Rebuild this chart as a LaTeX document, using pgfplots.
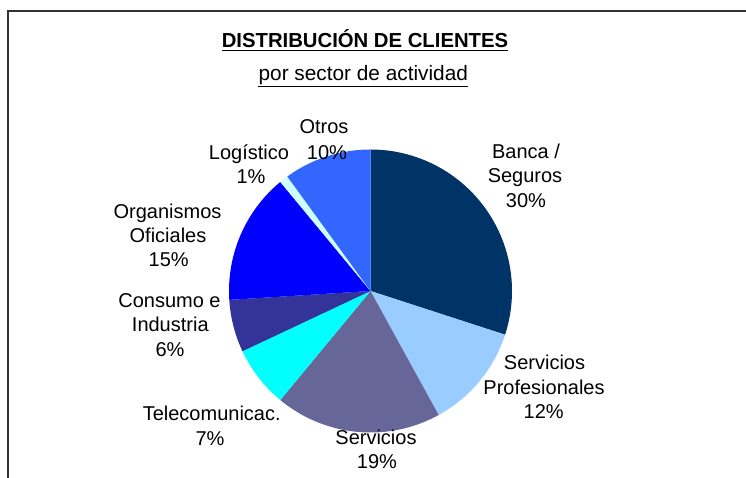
\documentclass[border=0pt]{standalone}
\usepackage{pgfplots}
\pgfplotsset{compat=1.18}
\usepgfplotslibrary{polar}
\usepackage{fontspec}
\setmainfont{Liberation Sans}
\definecolor{cBanca}{HTML}{003366}
\definecolor{cSProf}{HTML}{99CCFF}
\definecolor{cServ}{HTML}{666699}
\definecolor{cTele}{HTML}{00FFFF}
\definecolor{cCons}{HTML}{333399}
\definecolor{cOrg}{HTML}{0000FF}
\definecolor{cLog}{HTML}{CCFFFF}
\definecolor{cOtros}{HTML}{3366FF}
% shares (%): Banca/Seguros 30, Serv. Profesionales 12, Servicios 19,
% Telecomunicac. 7, Consumo e Industria 6, Organismos Oficiales 15,
% Logistico 1, Otros 10 -- clockwise from 12 o'clock (3.6 deg per %)
\newcommand{\lbl}[3]{\node[anchor=base,inner sep=0pt,font=\fontsize{20}{24}\selectfont] at (#1,478-#2) {#3};}
\begin{document}
\begin{tikzpicture}[x=1pt,y=1pt]
\useasboundingbox (0,0) rectangle (746,478);
\draw[line width=1.5pt, color=black!80] (746,467) -- (8,467) -- (8,0);
\begin{polaraxis}[at={(370.5pt,187pt)}, anchor=center, width=283pt, height=283pt,
  scale only axis, hide axis, ymin=0, ymax=1, xmin=0, xmax=360, clip=false]
\addplot[draw=none, fill=cBanca,  domain=-18:90,        samples=80] {1} -- (axis cs:0,0) -- cycle;
\addplot[draw=none, fill=cSProf,  domain=-61.2:-18,     samples=40] {1} -- (axis cs:0,0) -- cycle;
\addplot[draw=none, fill=cServ,   domain=-129.6:-61.2,  samples=60] {1} -- (axis cs:0,0) -- cycle;
\addplot[draw=none, fill=cTele,   domain=-154.8:-129.6, samples=30] {1} -- (axis cs:0,0) -- cycle;
\addplot[draw=none, fill=cCons,   domain=-176.4:-154.8, samples=30] {1} -- (axis cs:0,0) -- cycle;
\addplot[draw=none, fill=cOrg,    domain=-230.4:-176.4, samples=50] {1} -- (axis cs:0,0) -- cycle;
\addplot[draw=none, fill=cLog,    domain=-234:-230.4,   samples=10] {1} -- (axis cs:0,0) -- cycle;
\addplot[draw=none, fill=cOtros,  domain=-270:-234,     samples=40] {1} -- (axis cs:0,0) -- cycle;
\end{polaraxis}
% titles
\node[anchor=base,inner sep=0pt,font=\fontsize{20.3}{24}\selectfont\bfseries] (t1) at (365,478-47.3) {DISTRIBUCIÓN DE CLIENTES};
\draw[line width=1.5pt] ([yshift=-3.4pt]t1.base west) -- ([yshift=-3.4pt]t1.base east);
\node[anchor=base,inner sep=0pt,font=\fontsize{20.8}{24}\selectfont] (t2) at (363.3,478-81) {por sector de actividad};
\draw[line width=1.2pt] ([yshift=-5.7pt]t2.base west) -- ([yshift=-5.7pt]t2.base east);
% labels
\lbl{324}{133.3}{Otros}
\lbl{327}{159.3}{10\%}
\lbl{249}{159.3}{Logístico}
\lbl{251}{184}{1\%}
\lbl{526}{158.3}{Banca /}
\lbl{525}{182.8}{Seguros}
\lbl{526}{207.3}{30\%}
\lbl{167.5}{218.3}{Organismos}
\lbl{168}{242.6}{Oficiales}
\lbl{168.7}{267}{15\%}
\lbl{169.5}{307.5}{Consumo e}
\lbl{170.3}{332}{Industria}
\lbl{170}{356.5}{6\%}
\lbl{211.7}{420.7}{Telecomunicac.}
\lbl{210}{446}{7\%}
\lbl{544.5}{369.8}{Servicios}
\lbl{544}{394.2}{Profesionales}
\lbl{543.7}{418.5}{12\%}
\lbl{376}{444.3}{Servicios}
\lbl{377}{469}{19\%}
\end{tikzpicture}
\end{document}
